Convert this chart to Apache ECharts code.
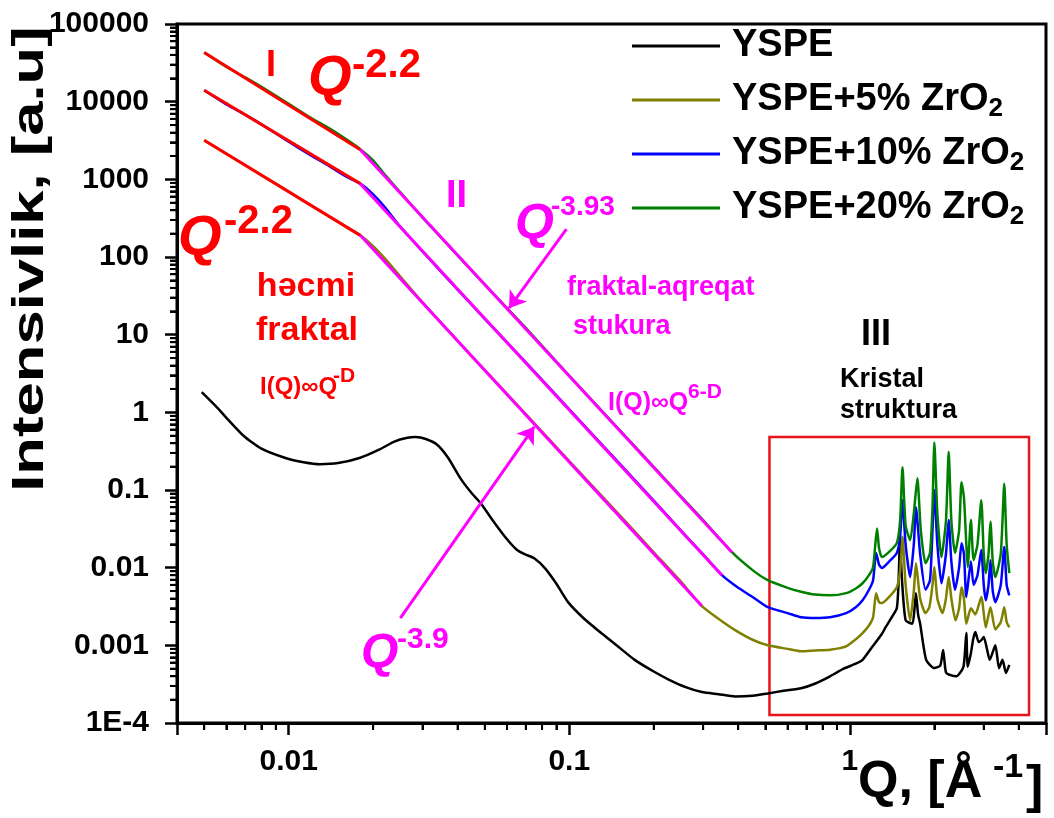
<!DOCTYPE html>
<html>
<head>
<meta charset="utf-8">
<script src="https://cdn.jsdelivr.net/npm/echarts@6/dist/echarts.min.js"></script>
<style>
  html, body { margin: 0; padding: 0; background: #fff; }
  #main { width: 1054px; height: 818px; }
  #note { position: absolute; left: 2px; top: 800px; font: 10px monospace; color: #999; }
</style>
</head>
<body>
<div id="main"></div>
<div id="note"></div>
<script>
// Q, I(Q) pairs
const ysPE = [
  [0.0049, 1.82], [0.0055, 1.2], [0.006, 0.85], [0.0069, 0.5], [0.008, 0.34], [0.0098, 0.256],
  [0.0113, 0.228], [0.0129, 0.215], [0.015, 0.222], [0.018, 0.26], [0.021, 0.33], [0.0238, 0.42],
  [0.0265, 0.47], [0.0283, 0.48], [0.031, 0.45], [0.0339, 0.38], [0.037, 0.26], [0.041, 0.14],
  [0.045, 0.09], [0.0483, 0.068], [0.053, 0.042], [0.059, 0.025], [0.065, 0.017], [0.0696, 0.0148],
  [0.075, 0.0132], [0.082, 0.0098], [0.09, 0.0062], [0.099, 0.0036], [0.113, 0.0022], [0.13, 0.00144],
  [0.15, 0.00095], [0.171, 0.00065], [0.2, 0.00046], [0.227, 0.00036], [0.26, 0.00029], [0.297, 0.00025],
  [0.34, 0.000235], [0.39, 0.00022], [0.45, 0.000225], [0.51, 0.00024], [0.58, 0.00026], [0.67, 0.00028],
  [0.75, 0.00032], [0.84, 0.00039], [0.95, 0.0005], [1.05, 0.00058], [1.11, 0.00065], [1.2, 0.00095],
  [1.3, 0.0014], [1.34, 0.0017], [1.42, 0.0024], [1.47, 0.003], [1.49, 0.006], [1.51, 0.0248],
  [1.53, 0.008], [1.58, 0.0021], [1.67, 0.0019], [1.7, 0.003], [1.72, 0.0047], [1.75, 0.0025],
  [1.78, 0.0019], [1.87, 0.00065], [2.0, 0.00051], [2.1, 0.00055], [2.15, 0.00087], [2.2, 0.00045],
  [2.3, 0.00041], [2.4, 0.0004], [2.54, 0.00053], [2.6, 0.00144], [2.63, 0.00053], [2.7, 0.00079],
  [2.75, 0.0012], [2.8, 0.00148], [2.88, 0.0011], [2.95, 0.00118], [3.0, 0.00128], [3.08, 0.0009],
  [3.15, 0.00065], [3.3, 0.001], [3.4, 0.00051], [3.5, 0.00065], [3.6, 0.00044], [3.7, 0.00056]
];
const zr5 = [
  [0.005, 3190], [0.006, 2130], [0.007, 1520], [0.008, 1130], [0.01, 695], [0.012, 460], [0.014, 330],
  [0.016, 245], [0.018, 190], [0.02, 138], [0.022, 96], [0.025, 56], [0.03, 26], [0.04, 8.3], [0.05, 3.5],
  [0.07, 0.95], [0.1, 0.236], [0.15, 0.049], [0.2, 0.0158], [0.25, 0.0066], [0.297, 0.0032], [0.34, 0.0022],
  [0.39, 0.00157], [0.45, 0.00118], [0.51, 0.001], [0.6, 0.0009], [0.67, 0.00084], [0.75, 0.00086],
  [0.85, 0.00088], [0.97, 0.00097], [1.05, 0.0012], [1.11, 0.00144], [1.17, 0.0018], [1.21, 0.0023],
  [1.24, 0.0047], [1.27, 0.0036], [1.3, 0.0035], [1.38, 0.0042], [1.47, 0.0056], [1.51, 0.009],
  [1.54, 0.025], [1.58, 0.006], [1.64, 0.0021], [1.69, 0.005], [1.72, 0.0114], [1.78, 0.004],
  [1.86, 0.0026], [1.92, 0.0031], [1.97, 0.006], [2.0, 0.0102], [2.05, 0.004], [2.14, 0.0026],
  [2.2, 0.004], [2.25, 0.0076], [2.3, 0.004], [2.38, 0.0021], [2.45, 0.003], [2.5, 0.0056],
  [2.55, 0.004], [2.6, 0.0019], [2.7, 0.003], [2.8, 0.0025], [2.94, 0.0042], [3.05, 0.0017],
  [3.17, 0.0031], [3.3, 0.0016], [3.45, 0.002], [3.55, 0.0031], [3.62, 0.002], [3.7, 0.0017]
];
const zr10 = [
  [0.005, 14000], [0.006, 9200], [0.007, 6800], [0.008, 5100], [0.01, 3050], [0.012, 2030], [0.014, 1470],
  [0.016, 1090], [0.018, 880], [0.02, 640], [0.022, 440], [0.025, 245], [0.03, 118], [0.04, 38], [0.05, 16],
  [0.07, 4.4], [0.1, 1.09], [0.15, 0.225], [0.2, 0.073], [0.25, 0.03], [0.3, 0.0148], [0.35, 0.008],
  [0.4, 0.0055], [0.45, 0.0042], [0.51, 0.0031], [0.6, 0.0026], [0.67, 0.0023], [0.75, 0.00225],
  [0.85, 0.0023], [0.97, 0.0026], [1.05, 0.0031], [1.11, 0.0038], [1.17, 0.0052], [1.21, 0.0069],
  [1.24, 0.0155], [1.27, 0.011], [1.3, 0.0099], [1.38, 0.012], [1.47, 0.0155], [1.51, 0.025],
  [1.54, 0.074], [1.58, 0.02], [1.64, 0.0076], [1.69, 0.02], [1.72, 0.06], [1.78, 0.015],
  [1.86, 0.0052], [1.93, 0.0069], [1.97, 0.03], [2.0, 0.1], [2.05, 0.02], [2.12, 0.0063],
  [2.2, 0.015], [2.25, 0.041], [2.3, 0.012], [2.37, 0.0052], [2.45, 0.01], [2.5, 0.0206],
  [2.55, 0.015], [2.6, 0.0042], [2.7, 0.012], [2.76, 0.006], [2.85, 0.008], [2.94, 0.0169],
  [3.0, 0.006], [3.05, 0.0038], [3.12, 0.006], [3.17, 0.0125], [3.23, 0.005], [3.3, 0.0036],
  [3.45, 0.006], [3.55, 0.0185], [3.62, 0.006], [3.7, 0.0044]
];
const zr20 = [
  [0.005, 43000], [0.006, 28000], [0.007, 20500], [0.008, 15500], [0.01, 9400], [0.012, 6200],
  [0.014, 4500], [0.016, 3300], [0.018, 2450], [0.02, 1750], [0.022, 1150], [0.025, 680], [0.03, 322],
  [0.04, 105], [0.05, 44], [0.07, 12.2], [0.1, 2.96], [0.15, 0.61], [0.2, 0.199], [0.25, 0.083],
  [0.3, 0.041], [0.38, 0.0158], [0.45, 0.0093], [0.51, 0.0069], [0.6, 0.0055], [0.67, 0.0049],
  [0.75, 0.0045], [0.85, 0.0044], [0.97, 0.0047], [1.05, 0.0054], [1.11, 0.0063], [1.17, 0.008],
  [1.21, 0.0102], [1.235, 0.022], [1.25, 0.032], [1.27, 0.018], [1.3, 0.0137], [1.38, 0.016],
  [1.47, 0.0207], [1.51, 0.04], [1.54, 0.197], [1.58, 0.035], [1.64, 0.0226], [1.69, 0.05],
  [1.74, 0.142], [1.79, 0.03], [1.86, 0.0114], [1.93, 0.0155], [1.97, 0.06], [2.0, 0.41],
  [2.05, 0.05], [2.12, 0.0137], [2.2, 0.04], [2.25, 0.31], [2.3, 0.04], [2.37, 0.0155],
  [2.45, 0.03], [2.5, 0.126], [2.55, 0.08], [2.6, 0.02], [2.63, 0.0102], [2.7, 0.041],
  [2.76, 0.0125], [2.85, 0.02], [2.94, 0.074], [3.0, 0.015], [3.05, 0.0085], [3.12, 0.015],
  [3.17, 0.039], [3.23, 0.012], [3.3, 0.0076], [3.45, 0.015], [3.55, 0.12], [3.62, 0.02], [3.7, 0.0085]
];
// power-law fits, region I (Q^-2.2) and region II (Q^-3.9)
const fitI = [
  [[0.005, 43000], [0.018, 2400]],
  [[0.005, 14000], [0.018, 880]],
  [[0.005, 3190], [0.018, 190]]
];
const fitII = [
  [[0.018, 2400], [0.38, 0.0158]],
  [[0.018, 880], [0.35, 0.008]],
  [[0.018, 190], [0.297, 0.0032]]
];
const arrows = [
  [[0.0977, 228], [0.061, 21.9]],
  [[0.025, 0.00224], [0.075, 0.65]]
];
const crystalBox = [[0.517, 0.48], [4.35, 1.27e-4]];

const seriesNames = ['YSPE', 'YSPE+5% ZrO2', 'YSPE+10% ZrO2', 'YSPE+20% ZrO2'];
const seriesColors = ['#000000', '#808000', '#0000ff', '#008000'];

const xMinorTicks = [0.005, 0.006, 0.007, 0.008, 0.009, 0.02, 0.03, 0.04, 0.05, 0.06, 0.07, 0.08, 0.09,
  0.2, 0.3, 0.4, 0.5, 0.6, 0.7, 0.8, 0.9, 2, 3, 4];
const yMinorTicks = [];
for (let e = -4; e < 5; e++) {
  for (let m = 2; m < 10; m++) yMinorTicks.push(m * Math.pow(10, e));
}

const FONT = '"Liberation Sans", Arial, sans-serif';
const RED = '#ff0000';
const MAG = '#ff00ff';
const X_MIN = 0.004, X_MAX = 5, Y_MIN = 1e-4, Y_MAX = 1e5;
const notes = [];

// 10的整数次幂才显示标签
function fmtLog(v) {
  const e = Math.round(Math.log10(v));
  if (Math.abs(Math.log10(v) - e) > 1e-6) return '';
  if (e >= 0) return String(Math.pow(10, e));
  if (e >= -3) return Math.pow(10, e).toFixed(-e);
  return '1E' + e;
}

function txt(text, x, y, size, color, extra) {
  return {
    type: 'text', x: x, y: y, z: 100,
    style: Object.assign({
      text: text, fill: color, font: 'bold ' + size + 'px ' + FONT,
      textAlign: 'left', textVerticalAlign: 'middle'
    }, extra || {})
  };
}

const dataSets = [ysPE, zr5, zr10, zr20];
const series = dataSets.map((d, i) => ({
  name: seriesNames[i],
  type: 'line',
  data: d,
  symbol: 'none',
  showSymbol: false,
  smooth: 0.2,
  lineStyle: { color: seriesColors[i], width: 2.5 },
  itemStyle: { color: seriesColors[i] },
  z: 2 + i
}));

fitI.forEach(d => series.push({
  type: 'line', data: d, symbol: 'none', silent: true,
  lineStyle: { color: RED, width: 3 }, z: 10
}));
fitII.forEach(d => series.push({
  type: 'line', data: d, symbol: 'none', silent: true,
  lineStyle: { color: MAG, width: 3 }, z: 10
}));

// arrows + red box ride on the last fit line
Object.assign(series[series.length - 1], {
  markLine: {
    silent: true, symbol: ['none', 'arrow'], symbolSize: 16,
    label: { show: false },
    lineStyle: { color: MAG, width: 3, type: 'solid' },
    data: arrows.map(a => [{ coord: a[0] }, { coord: a[1] }])
  },
  markArea: {
    silent: true,
    itemStyle: { color: 'rgba(0,0,0,0)', borderColor: '#e8141c', borderWidth: 2.5 },
    data: [[{ coord: crystalBox[0] }, { coord: crystalBox[1] }]]
  }
});

const labels = [
  // axis names
  Object.assign(txt('Intensivlik, [a.u]', 31, 259, 44, '#000', { textAlign: 'center' }),
    { rotation: Math.PI / 2, scaleX: 1.4 }),
  txt('Q, [Å', 858, 783, 52, '#000'),
  txt('-1', 993, 768, 34, '#000'),
  txt(']', 1026, 788, 52, '#000'),
  // region I
  txt('I', 266, 66, 36, RED),
  txt('Q', 308, 79, 56, RED, { font: 'italic bold 56px ' + FONT }),
  txt('-2.2', 352, 66, 40, RED),
  txt('Q', 178, 239, 56, RED, { font: 'italic bold 56px ' + FONT }),
  txt('-2.2', 224, 222, 40, RED),
  txt('həcmi', 306, 287, 34, RED, { textAlign: 'center' }),
  txt('fraktal', 307, 331, 34, RED, { textAlign: 'center' }),
  txt('I(Q)∞Q', 260, 387, 24, RED),
  txt('-D', 333, 376, 21, RED),
  // region II
  txt('II', 446, 197, 38, MAG),
  txt('Q', 515, 225, 50, MAG, { font: 'italic bold 50px ' + FONT }),
  txt('-3.93', 551, 207, 28, MAG),
  txt('Q', 361, 654, 48, MAG, { font: 'italic bold 48px ' + FONT }),
  txt('-3.9', 397, 640, 30, MAG),
  txt('fraktal-aqreqat', 567, 288, 27, MAG),
  txt('stukura', 573, 327, 27, MAG),
  txt('I(Q)∞Q', 608, 403, 25, MAG),
  txt('6-D', 688, 392, 21, MAG),
  // region III
  txt('III', 861, 335, 36, '#000'),
  txt('Kristal', 840, 380, 27, '#000'),
  txt('struktura', 840, 411, 27, '#000')
];

const labelStyle = { color: '#000', fontSize: 30, fontWeight: 'bold', fontFamily: FONT };
const minorStyle = { show: true, splitNumber: 9, length: 7, lineStyle: { color: '#000', width: 2 } };

const chart = echarts.init(document.getElementById('main'));
try {
  chart.setOption({
    animation: false,
    backgroundColor: '#fff',
    grid: { left: 177, right: 8, top: 24, bottom: 95, show: true, borderColor: '#000', borderWidth: 3 },
    legend: {
      data: seriesNames,
      orient: 'vertical',
      left: 632, top: 24, padding: 0,
      icon: 'rect', itemWidth: 88, itemHeight: 3, itemGap: 10,
      formatter: n => n.replace(/O2$/, 'O{sub|2}'),
      textStyle: {
        color: '#000', fontSize: 38, fontWeight: 'bold', fontFamily: FONT, lineHeight: 44,
        padding: [0, 0, 0, 7],
        rich: { sub: { fontSize: 26, fontWeight: 'bold', fontFamily: FONT, color: '#000', lineHeight: 18, verticalAlign: 'bottom' } }
      }
    },
    xAxis: {
      type: 'log', min: X_MIN, max: X_MAX, splitNumber: 5,
      axisLine: { lineStyle: { color: '#000', width: 3 } },
      axisTick: { length: 12, lineStyle: { width: 2.5 } },
      minorTick: minorStyle,
      axisLabel: Object.assign({ formatter: fmtLog, margin: 24 }, labelStyle),
      splitLine: { show: false }
    },
    yAxis: {
      type: 'log', min: Y_MIN, max: Y_MAX, splitNumber: 9,
      axisLine: { lineStyle: { color: '#000', width: 3 } },
      axisTick: { length: 12, lineStyle: { width: 2.5 } },
      minorTick: minorStyle,
      axisLabel: Object.assign({ formatter: fmtLog, margin: 28 }, labelStyle),
      splitLine: { show: false }
    },
    graphic: labels,
    series: series
  });
} catch (e) { notes.push('opt: ' + e.message); }

// 次刻度（每个十倍程 2..9）：用坐标系换算成像素后画短线
try {
  const ticks = [];
  xMinorTicks.forEach(v => {
    const p = chart.convertToPixel({ gridIndex: 0 }, [v, Y_MIN]);
    ticks.push({ type: 'line', shape: { x1: p[0], y1: p[1], x2: p[0], y2: p[1] + 7 },
      style: { stroke: '#000', lineWidth: 2 } });
  });
  yMinorTicks.forEach(v => {
    const p = chart.convertToPixel({ gridIndex: 0 }, [X_MIN, v]);
    ticks.push({ type: 'line', shape: { x1: p[0] - 7, y1: p[1], x2: p[0], y2: p[1] },
      style: { stroke: '#000', lineWidth: 2 } });
  });
  chart.setOption({ graphic: labels.concat(ticks) });
} catch (e) { notes.push('ticks: ' + e.message); }
if (notes.length) document.getElementById('note').textContent = notes.join(' | ');
</script>
</body>
</html>
